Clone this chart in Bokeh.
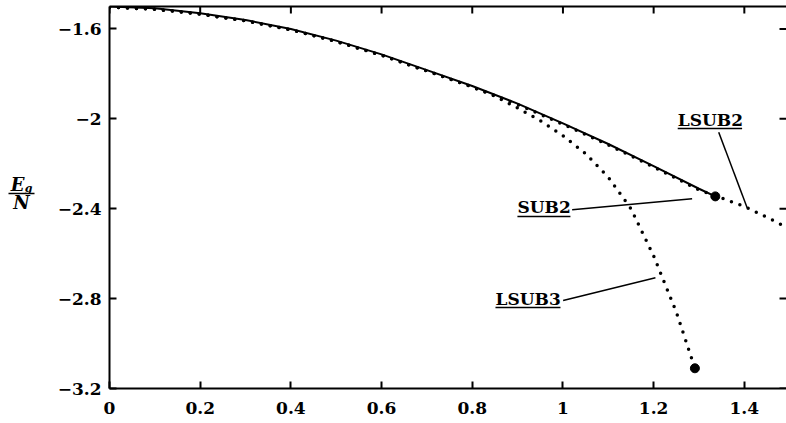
from bokeh.plotting import figure
from bokeh.models import LinearAxis, FixedTicker, Range1d
from bokeh.layouts import row
from bokeh.core.properties import value
from bokeh.embed import file_html
from bokeh.resources import INLINE

# ---- data ----
x_ticks = [0, 0.2, 0.4, 0.6, 0.8, 1.0, 1.2, 1.4]
x_tick_labels = ["0", "0.2", "0.4", "0.6", "0.8", "1", "1.2", "1.4"]
y_ticks = [-3.2, -2.8, -2.4, -2.0, -1.6]
y_tick_labels = ["\u22123.2", "\u22122.8", "\u22122.4", "\u22122", "\u22121.6"]

sub2_x = [0, 0.1, 0.2, 0.3, 0.4, 0.5, 0.6, 0.7, 0.8, 0.9, 1.0, 1.1, 1.2, 1.3, 1.336]
sub2_y = [-1.5, -1.508, -1.53, -1.56, -1.6, -1.652, -1.713, -1.783, -1.854, -1.932,
          -2.02, -2.112, -2.21, -2.311, -2.345]

lsub2_x = [0, 0.1, 0.2, 0.3, 0.4, 0.5, 0.6, 0.7, 0.8, 0.9, 1.0, 1.1, 1.2, 1.3,
           1.35, 1.4, 1.45, 1.5]
lsub2_y = [-1.503, -1.512, -1.534, -1.564, -1.604, -1.656, -1.717, -1.787, -1.858,
           -1.936, -2.024, -2.116, -2.214, -2.316, -2.352, -2.39, -2.438, -2.49]

lsub3_x = [0, 0.1, 0.2, 0.3, 0.4, 0.5, 0.6, 0.7, 0.8, 0.85, 0.9, 0.95, 1.0, 1.05,
           1.1, 1.15, 1.2, 1.25, 1.291]
lsub3_y = [-1.503, -1.512, -1.534, -1.564, -1.604, -1.656, -1.717, -1.787, -1.858,
           -1.899, -1.952, -2.008, -2.075, -2.155, -2.26, -2.40, -2.61, -2.86, -3.11]

series_names = ["SUB2", "LSUB2", "LSUB3"]

# ---- annotation placement (data coords) ----
label_x = [0.8996, 1.2531, 0.8512]
label_y = [-2.3945, -2.0029, -2.7995]
underline_x0 = [0.8996, 1.2531, 0.8512]
underline_x1 = [1.0165, 1.3951, 0.9945]
underline_y = [-2.4346, -2.0429, -2.8396]
leader_x0 = [1.0203, 1.3435, 1.0004]
leader_y0 = [-2.4048, -2.0594, -2.8084]
leader_x1 = [1.2849, 1.4062, 1.2040]
leader_y1 = [-2.3558, -2.3959, -2.7074]

FONT = "DejaVu Serif"
X_END = 1.493
Y_TOP = -1.5
TICK_DY = 0.031   # inward tick length (7 px) on the top edge
TICK_DX = 0.0154  # inward tick length (7 px) on the right edge

# ---- y-axis title as a fraction, in its own narrow panel (pixel coords) ----
lab = figure(width=45, height=423, x_range=Range1d(0, 45), y_range=Range1d(423, 0),
             output_backend="svg", toolbar_location=None,
             min_border_left=0, min_border_right=0, min_border_top=0,
             min_border_bottom=0)
lab.axis.visible = False
lab.grid.visible = False
lab.outline_line_color = None
lab.text(x=[17], y=[197], text=["E"], text_font=value(FONT),
         text_font_style="bold italic", text_font_size="18px",
         text_align="center", text_baseline="middle", text_color="black")
lab.text(x=[28], y=[202], text=["g"], text_font=value(FONT),
         text_font_style="bold italic", text_font_size="11px",
         text_align="center", text_baseline="middle", text_color="black")
lab.segment(x0=[8], y0=[207], x1=[34], y1=[207], line_color="black", line_width=1.5)
lab.text(x=[21], y=[217], text=["N"], text_font=value(FONT),
         text_font_style="bold italic", text_font_size="18px",
         text_align="center", text_baseline="middle", text_color="black")

# ---- main chart ----
p = figure(width=741, height=423, x_range=(0, X_END), y_range=(-3.2, Y_TOP),
           output_backend="svg", toolbar_location=None,
           min_border_left=64, min_border_right=0, min_border_top=6,
           min_border_bottom=35)
p.grid.visible = False
p.outline_line_color = None


def style_axis(ax, ticks, labels):
    ax.ticker = FixedTicker(ticks=ticks)
    ax.major_label_overrides = {t: l for t, l in zip(ticks, labels)}
    ax.major_tick_in = 7
    ax.major_tick_out = 0
    ax.minor_tick_in = 0
    ax.minor_tick_out = 0
    ax.major_tick_line_width = 2
    ax.major_tick_line_color = "black"
    ax.axis_line_width = 2
    ax.axis_line_color = "black"
    ax.major_label_text_font = FONT
    ax.major_label_text_font_style = "bold"
    ax.major_label_text_color = "black"
    ax.major_label_text_font_size = "17px"


style_axis(p.xaxis[0], x_ticks, x_tick_labels)
p.xaxis[0].major_label_standoff = 13
style_axis(p.yaxis[0], y_ticks, y_tick_labels)
p.yaxis[0].major_label_standoff = 8

# top frame line (no ticks / labels from the axis itself)
top = LinearAxis(ticker=FixedTicker(ticks=[]), axis_line_width=2,
                 axis_line_color="black", major_tick_in=0, major_tick_out=0,
                 minor_tick_in=0, minor_tick_out=0, major_label_standoff=0)
p.add_layout(top, "above")

# inward ticks along the top and right edges, at the same tick values
p.segment(x0=x_ticks, y0=[Y_TOP] * len(x_ticks), x1=x_ticks,
          y1=[Y_TOP - TICK_DY] * len(x_ticks), line_color="black", line_width=2)
p.segment(x0=[X_END] * len(y_ticks), y0=y_ticks, x1=[X_END - TICK_DX] * len(y_ticks),
          y1=y_ticks, line_color="black", line_width=2)

# curves
p.line(sub2_x, sub2_y, line_color="black", line_width=2)
p.line(lsub2_x, lsub2_y, line_color="black", line_width=3.5,
       line_dash="0 9", line_cap="round")
p.line(lsub3_x, lsub3_y, line_color="black", line_width=3.5,
       line_dash="0 9", line_cap="round")
p.scatter([sub2_x[-1], lsub3_x[-1]], [sub2_y[-1], lsub3_y[-1]], size=9,
          color="black")

# labels, underlines, leaders
p.text(x=label_x, y=label_y, text=series_names, text_font=value(FONT),
       text_font_style="bold", text_font_size="17px", text_color="black",
       text_align="left", text_baseline="middle")
p.segment(x0=underline_x0, y0=underline_y, x1=underline_x1, y1=underline_y,
          line_color="black", line_width=1.5)
p.segment(x0=leader_x0, y0=leader_y0, x1=leader_x1, y1=leader_y1,
          line_color="black", line_width=1.5)

layout = row(lab, p)
open("out.html", "w").write(file_html(layout, INLINE))
